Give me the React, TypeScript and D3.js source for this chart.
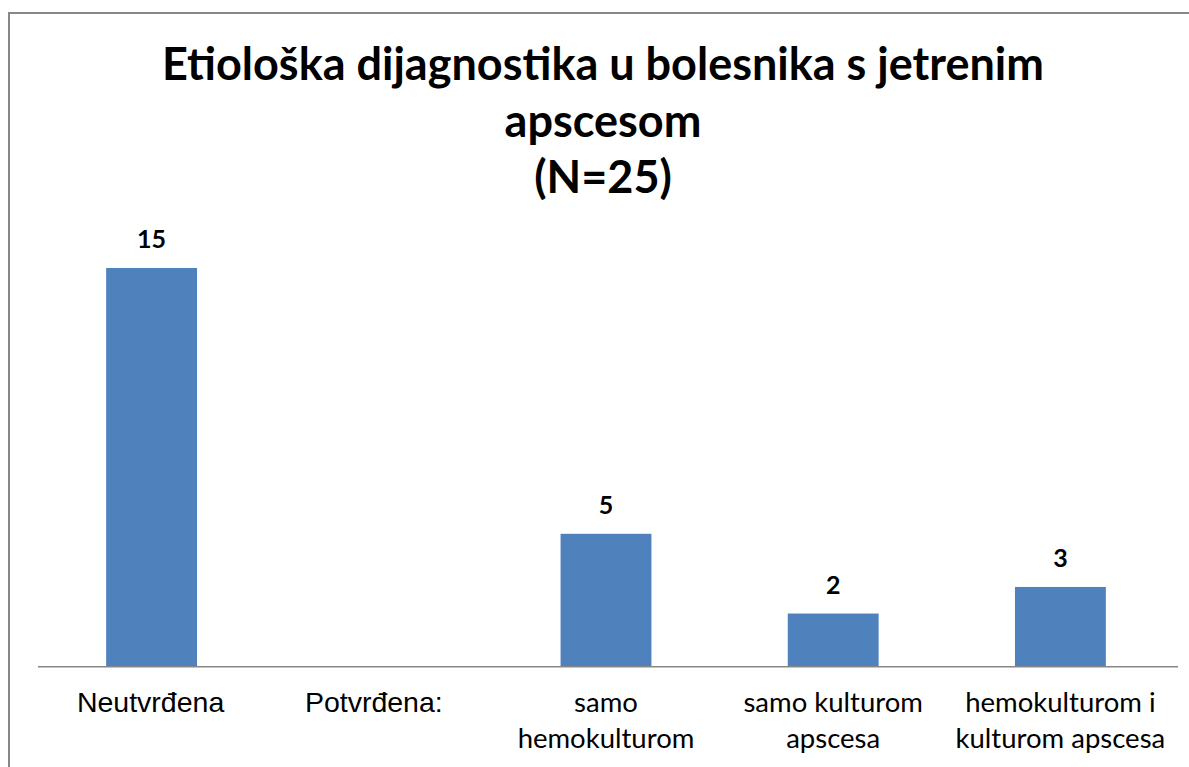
import { useEffect, useRef } from 'react';
import * as d3 from 'd3';

const categories = ['Neutvrđena', 'Potvrđena:', 'samo hemokulturom', 'samo kulturom apscesa', 'hemokulturom i kulturom apscesa'];
const categoryLines = [['Neutvrđena'], ['Potvrđena:'], ['samo', 'hemokulturom'], ['samo kulturom', 'apscesa'], ['hemokulturom i', 'kulturom apscesa']];
const arialLabels = [true, true, false, false, false];
const values: (number | null)[] = [15, null, 5, 2, 3];
const titleLines = ['Etiološka dijagnostika u bolesnika s jetrenim', 'apscesom', '(N=25)'];

const W = 1189;
const H = 767;

export default function App() {
  const svgRef = useRef<SVGSVGElement>(null);

  useEffect(() => {
    if (!svgRef.current) return;
    const svg = d3.select(svgRef.current);
    svg.selectAll('*').remove();

    const calibri = 'Lato, "Open Sans", sans-serif';
    const arial = '"Liberation Sans", Arial, sans-serif';

    // chart area border (runs off right and bottom edges)
    svg.append('rect')
      .attr('x', 9)
      .attr('y', 13)
      .attr('width', W + 20)
      .attr('height', H + 20)
      .attr('fill', '#fff')
      .attr('stroke', '#878787')
      .attr('stroke-width', 2);

    const plot = { left: 38, right: 1174, top: 241.4, bottom: 666.7 };

    const x = d3.scaleBand<string>()
      .domain(categories)
      .range([plot.left, plot.right])
      .paddingInner(0.6)
      .paddingOuter(0.3);

    const y = d3.scaleLinear()
      .domain([0, 16])
      .range([plot.bottom, plot.top]);

    const g = svg.append('g');

    const barData = categories
      .map((c, i) => ({ c, v: values[i] }))
      .filter(d => d.v !== null) as { c: string; v: number }[];

    g.selectAll('.bar')
      .data(barData)
      .enter()
      .append('rect')
      .attr('class', 'bar')
      .attr('x', d => x(d.c)!)
      .attr('width', x.bandwidth())
      .attr('y', d => y(d.v))
      .attr('height', d => y(0) - y(d.v))
      .attr('fill', '#4F81BD');

    g.selectAll('.val')
      .data(barData)
      .enter()
      .append('text')
      .attr('class', 'val')
      .attr('x', d => x(d.c)! + x.bandwidth() / 2)
      .attr('y', d => y(d.v) - 20)
      .attr('text-anchor', 'middle')
      .attr('font-family', calibri)
      .attr('font-weight', 700)
      .attr('font-size', '25px')
      .attr('fill', '#000')
      .text(d => String(d.v));

    // x axis line
    g.append('line')
      .attr('x1', plot.left)
      .attr('x2', 1178)
      .attr('y1', y(0))
      .attr('y2', y(0))
      .attr('stroke', '#878787')
      .attr('stroke-width', 1.5);

    // category labels
    const labelShift = [-1, -5, 0, 0, 0];
    categories.forEach((c, i) => {
      const cx = x(c)! + x.bandwidth() / 2 + labelShift[i];
      const t = g.append('text')
        .attr('text-anchor', 'middle')
        .attr('font-family', arialLabels[i] ? arial : calibri)
        .attr('font-size', arialLabels[i] ? '28.5px' : '27.5px')
        .attr('fill', '#000');
      categoryLines[i].forEach((line, j) => {
        t.append('tspan')
          .attr('x', cx)
          .attr('y', 712 + j * 36)
          .text(line);
      });
    });

    // title
    titleLines.forEach((line, i) => {
      svg.append('text')
        .attr('x', 603)
        .attr('y', 80 + i * 56.5)
        .attr('text-anchor', 'middle')
        .attr('font-family', calibri)
        .attr('font-weight', 700)
        .attr('font-size', '45px')
        .attr('fill', '#000')
        .text(line);
    });
  }, []);

  return (
    <svg
      ref={svgRef}
      width={W}
      height={H}
      style={{ display: 'block', position: 'absolute', left: 0, top: 0 }}
    />
  );
}
